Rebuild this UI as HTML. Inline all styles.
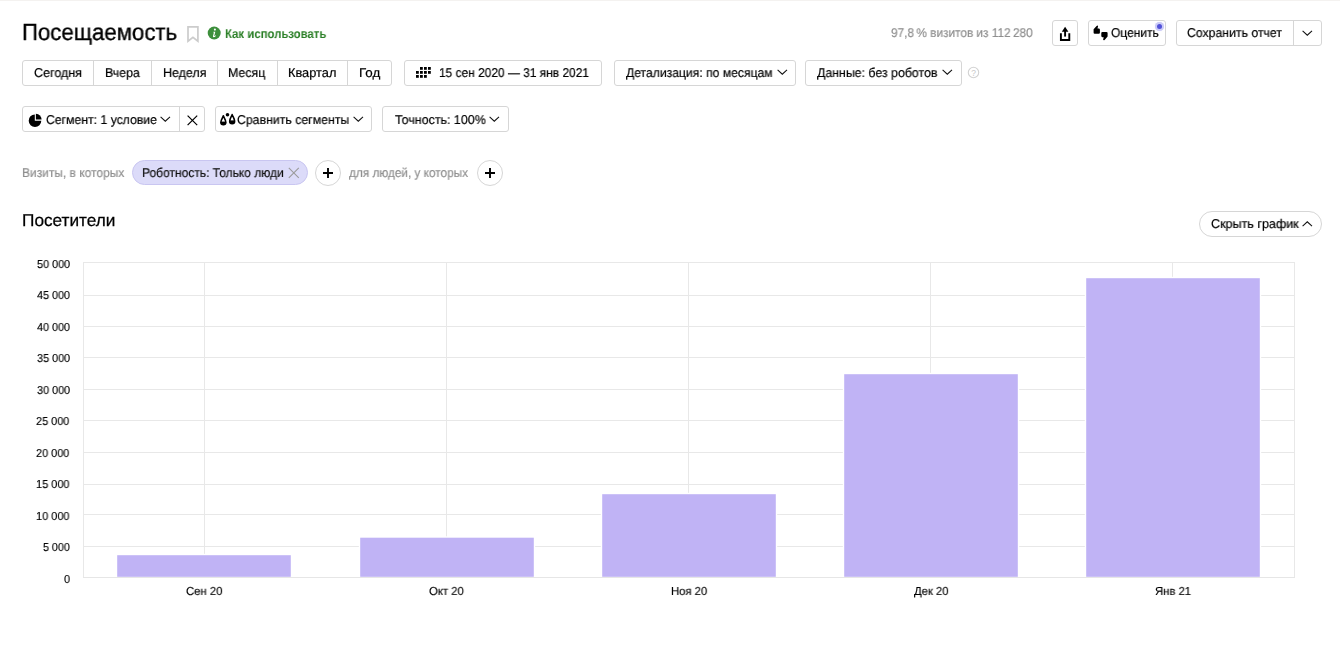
<!DOCTYPE html>
<html><head><meta charset="utf-8">
<style>
*{box-sizing:border-box;margin:0;padding:0}
html,body{width:1340px;height:649px;overflow:hidden;background:#fff}
body{position:relative;font-family:"Liberation Sans",sans-serif;color:#000}
.a{position:absolute}
.t{position:absolute;white-space:nowrap;line-height:0;transform-origin:0 0;will-change:transform;text-rendering:geometricPrecision}
.b{position:absolute;border:1px solid #d6d6d6;border-radius:3px;background:#fff}
.v{position:absolute;width:1px;background:#d6d6d6}
</style></head><body>
<div class="a" style="left:0;top:0;width:1340px;height:1px;background:#f4f2f0"></div>
<div class="t" style="left:22.26px;top:32.00px;font-size:23.40px;transform:scaleX(0.9493);color:#000;-webkit-text-stroke:0.35px #000;">Посещаемость</div>
<svg class="a" style="left:186px;top:25px" width="15" height="19" viewBox="0 0 15 19"><path d="M2 1.8 H11.9 V16.2 L6.95 12.4 L2 16.2 Z" fill="none" stroke="#cccccc" stroke-width="1.7"/></svg>
<svg class="a" style="left:207px;top:26px" width="14" height="14" viewBox="0 0 14 14"><circle cx="7.2" cy="7" r="6.5" fill="#3d8f3c"/><circle cx="7.9" cy="3.6" r="1.05" fill="#fff"/><path d="M6.4 5.8 H8.3 L7.3 9.7 Q7.2 10.3 7.8 10 L8.9 9.2 L9.1 9.7 Q7.7 11.2 6.6 11.2 Q5.7 11.1 6 10.1 L6.9 6.5 H6.3 Z" fill="#fff"/></svg>
<div class="t" style="left:225.29px;top:34.00px;font-size:12.60px;transform:scaleX(0.9031);font-weight:bold;color:#2a7f26;">Как использовать</div>
<div class="t" style="left:891.35px;top:33.00px;font-size:12.60px;transform:scaleX(0.9383);color:#8f8f8f;-webkit-text-stroke:0.2px #8f8f8f;">97,8&#8201;% визитов из 112&#8201;280</div>
<div class="b" style="left:1052px;top:20px;width:26px;height:26px"></div>
<svg class="a" style="left:1052px;top:20px" width="26" height="26" viewBox="0 0 26 26"><path d="M8.9 13.2 V20 H17.3 V13.2" fill="none" stroke="#000" stroke-width="1.9"/><path d="M13.1 10.5 V16.6" stroke="#000" stroke-width="1.9"/><path d="M9.8 11.8 L13.1 6.8 L16.4 11.8 Z" fill="#000"/></svg>
<div class="b" style="left:1088px;top:20px;width:78px;height:26px"></div>
<svg class="a" style="left:1088px;top:20px" width="26" height="26" viewBox="0 0 26 26"><path transform="translate(5.2 5.4)" d="M0.4 3.8 L3.4 0.5 Q4.3 -0.3 4.9 0.6 L4.3 3.2 H5.6 Q6.7 3.2 6.7 4.3 V7.3 Q6.7 8.4 5.6 8.4 H1.5 Q0.4 8.4 0.4 7.3 Z" fill="#000"/><path transform="translate(20 20.4) rotate(180)" d="M0.4 3.8 L3.4 0.5 Q4.3 -0.3 4.9 0.6 L4.3 3.2 H5.6 Q6.7 3.2 6.7 4.3 V7.3 Q6.7 8.4 5.6 8.4 H1.5 Q0.4 8.4 0.4 7.3 Z" fill="#000"/></svg>
<div class="t" style="left:1111.24px;top:33.00px;font-size:12.80px;transform:scaleX(0.9371);color:#000;-webkit-text-stroke:0.2px #000;">Оценить</div>
<div class="a" style="left:1154.7px;top:21.7px;width:9.4px;height:9.4px;border-radius:50%;background:#cbcbf7;box-shadow:0 0 1px #d8d8f8"></div>
<div class="a" style="left:1156.6px;top:23.6px;width:5.6px;height:5.6px;border-radius:50%;background:#5151d8"></div>
<div class="b" style="left:1176px;top:20px;width:146px;height:26px"></div>
<div class="v" style="left:1292.6px;top:21px;height:24px"></div>
<div class="t" style="left:1186.73px;top:33.00px;font-size:12.80px;transform:scaleX(0.9581);color:#000;-webkit-text-stroke:0.2px #000;">Сохранить отчет</div>
<svg class="a" style="left:1302.40px;top:29.80px" width="11" height="7" viewBox="0 0 11 7"><path d="M0.6 0.8 L5.3 5.2 L10 0.8" fill="none" stroke="#111" stroke-width="1.05"/></svg>
<div class="b" style="left:22px;top:60px;width:370px;height:26px"></div>
<div class="v" style="left:93px;top:61px;height:24px"></div>
<div class="v" style="left:151px;top:61px;height:24px"></div>
<div class="v" style="left:217px;top:61px;height:24px"></div>
<div class="v" style="left:277px;top:61px;height:24px"></div>
<div class="v" style="left:347px;top:61px;height:24px"></div>
<div class="t" style="left:34.31px;top:73.00px;font-size:12.80px;transform:scaleX(0.9806);color:#000;-webkit-text-stroke:0.2px #000;">Сегодня</div>
<div class="t" style="left:104.74px;top:73.00px;font-size:12.80px;transform:scaleX(0.9626);color:#000;-webkit-text-stroke:0.2px #000;">Вчера</div>
<div class="t" style="left:162.53px;top:73.00px;font-size:12.80px;transform:scaleX(0.9741);color:#000;-webkit-text-stroke:0.2px #000;">Неделя</div>
<div class="t" style="left:228.03px;top:73.00px;font-size:12.80px;transform:scaleX(0.9665);color:#000;-webkit-text-stroke:0.2px #000;">Месяц</div>
<div class="t" style="left:288.00px;top:73.00px;font-size:12.80px;transform:scaleX(0.9977);color:#000;-webkit-text-stroke:0.2px #000;">Квартал</div>
<div class="t" style="left:358.65px;top:73.00px;font-size:12.80px;transform:scaleX(1.0460);color:#000;-webkit-text-stroke:0.2px #000;">Год</div>
<div class="b" style="left:404px;top:60px;width:198px;height:26px"></div>
<svg class="a" style="left:416px;top:67px" width="15" height="11" viewBox="0 0 15 11"><g fill="#000"><rect x="4" y="0" width="2.8" height="2.8"/><rect x="8" y="0" width="2.8" height="2.8"/><rect x="12" y="0" width="2.8" height="2.8"/><rect x="0" y="4" width="2.8" height="2.8"/><rect x="4" y="4" width="2.8" height="2.8"/><rect x="8" y="4" width="2.8" height="2.8"/><rect x="12" y="4" width="2.8" height="2.8"/><rect x="0" y="8" width="2.8" height="2.8"/><rect x="4" y="8" width="2.8" height="2.8"/><rect x="8" y="8" width="2.8" height="2.8"/></g></svg>
<div class="t" style="left:439.25px;top:73.00px;font-size:12.80px;transform:scaleX(0.9321);color:#000;-webkit-text-stroke:0.2px #000;">15 сен 2020 — 31 янв 2021</div>
<div class="b" style="left:614px;top:60px;width:182px;height:26px"></div>
<div class="t" style="left:626.30px;top:73.00px;font-size:12.80px;transform:scaleX(0.9496);color:#000;-webkit-text-stroke:0.2px #000;">Детализация: по месяцам</div>
<svg class="a" style="left:776.50px;top:69.20px" width="11" height="7" viewBox="0 0 11 7"><path d="M0.6 0.8 L5.3 5.2 L10 0.8" fill="none" stroke="#111" stroke-width="1.05"/></svg>
<div class="b" style="left:805px;top:60px;width:157px;height:26px"></div>
<div class="t" style="left:817.40px;top:73.00px;font-size:12.80px;transform:scaleX(0.9650);color:#000;-webkit-text-stroke:0.2px #000;">Данные: без роботов</div>
<svg class="a" style="left:941.50px;top:69.10px" width="11" height="7" viewBox="0 0 11 7"><path d="M0.6 0.8 L5.3 5.2 L10 0.8" fill="none" stroke="#111" stroke-width="1.05"/></svg>
<svg class="a" style="left:967px;top:66.2px" width="13" height="13" viewBox="0 0 13 13"><circle cx="6.5" cy="6.5" r="5.2" fill="none" stroke="#d2d2d2" stroke-width="1.1"/><text x="6.5" y="9.5" text-anchor="middle" font-family="Liberation Sans" font-size="8.5" fill="#c8c8c8">?</text></svg>
<div class="b" style="left:22px;top:106px;width:183px;height:26px"></div>
<div class="v" style="left:178.5px;top:107px;height:24px"></div>
<svg class="a" style="left:27px;top:111.5px" width="17" height="17" viewBox="0 0 17 17"><path d="M7.8 2.4 A6.3 6.3 0 1 0 14.3 8.8 H7.8 Z" fill="#000"/><path d="M8.9 1.7 A5.7 5.7 0 0 1 14.6 7.5 H8.9 Z" fill="#000"/></svg>
<div class="t" style="left:45.53px;top:120.00px;font-size:12.80px;transform:scaleX(0.9556);color:#000;-webkit-text-stroke:0.2px #000;">Сегмент: 1 условие</div>
<svg class="a" style="left:159.60px;top:115.70px" width="11" height="7" viewBox="0 0 11 7"><path d="M0.6 0.8 L5.3 5.2 L10 0.8" fill="none" stroke="#111" stroke-width="1.05"/></svg>
<svg class="a" style="left:187px;top:115px" width="11" height="11" viewBox="0 0 11 11"><path d="M0.6 0.6 L10.2 10.2 M10.2 0.6 L0.6 10.2" stroke="#000" stroke-width="1.2"/></svg>
<div class="b" style="left:215px;top:106px;width:157px;height:26px"></div>
<svg class="a" style="left:218px;top:112px" width="20" height="15" viewBox="0 0 20 15"><g transform="translate(5.35 3.8)"><path d="M0 0 C-0.45 1.7 -2.45 4 -2.45 6.55 A2.45 2.45 0 0 0 2.45 6.55 C2.45 4 0.45 1.7 0 0 Z" fill="none" stroke="#000" stroke-width="1.6" stroke-linejoin="round"/><path d="M-2.45 6.3 H2.45 A2.45 2.45 0 0 1 -2.45 6.3 Z" fill="#000" stroke="#000" stroke-width="1"/></g><g transform="translate(14.15 2.6)"><path d="M0 0 C-0.45 1.7 -2.45 4 -2.45 6.55 A2.45 2.45 0 0 0 2.45 6.55 C2.45 4 0.45 1.7 0 0 Z" fill="none" stroke="#000" stroke-width="1.6" stroke-linejoin="round"/><path d="M-2.45 6.3 H2.45 A2.45 2.45 0 0 1 -2.45 6.3 Z" fill="#000" stroke="#000" stroke-width="1"/></g><circle cx="9.5" cy="2.7" r="1.8" fill="#000"/></svg>
<div class="t" style="left:237.42px;top:120.00px;font-size:12.80px;transform:scaleX(0.9617);color:#000;-webkit-text-stroke:0.2px #000;">Сравнить сегменты</div>
<svg class="a" style="left:353.00px;top:115.90px" width="11" height="7" viewBox="0 0 11 7"><path d="M0.6 0.8 L5.3 5.2 L10 0.8" fill="none" stroke="#111" stroke-width="1.05"/></svg>
<div class="b" style="left:382px;top:106px;width:127px;height:26px"></div>
<div class="t" style="left:394.61px;top:120.00px;font-size:12.80px;transform:scaleX(0.9729);color:#000;-webkit-text-stroke:0.2px #000;">Точность: 100%</div>
<svg class="a" style="left:489.40px;top:115.90px" width="11" height="7" viewBox="0 0 11 7"><path d="M0.6 0.8 L5.3 5.2 L10 0.8" fill="none" stroke="#111" stroke-width="1.05"/></svg>
<div class="t" style="left:21.86px;top:173.00px;font-size:12.80px;transform:scaleX(0.9356);color:#8f8f8f;-webkit-text-stroke:0.2px #8f8f8f;">Визиты, в которых</div>
<div class="a" style="left:132px;top:160px;width:176px;height:25px;border-radius:13px;background:#dcdbf9;border:1px solid #c9c6f1"></div>
<div class="t" style="left:142.26px;top:173.00px;font-size:12.80px;transform:scaleX(0.9395);color:#111;-webkit-text-stroke:0.2px #111;">Роботность: Только люди</div>
<svg class="a" style="left:288px;top:167px" width="12" height="12" viewBox="0 0 12 12"><path d="M0.8 0.8 L10.8 10.8 M10.8 0.8 L0.8 10.8" stroke="#9b9b9b" stroke-width="1.1"/></svg>
<div class="a" style="left:315px;top:159.5px;width:26px;height:26px;border-radius:50%;border:1px solid #d6d6d6;background:#fff"></div>
<svg class="a" style="left:322px;top:166.5px" width="12" height="12" viewBox="0 0 12 12"><path d="M6 1 V11 M1 6 H11" stroke="#000" stroke-width="1.9"/></svg>
<div class="a" style="left:477px;top:159.5px;width:26px;height:26px;border-radius:50%;border:1px solid #d6d6d6;background:#fff"></div>
<svg class="a" style="left:484px;top:166.5px" width="12" height="12" viewBox="0 0 12 12"><path d="M6 1 V11 M1 6 H11" stroke="#000" stroke-width="1.9"/></svg>
<div class="t" style="left:348.90px;top:173.00px;font-size:12.80px;transform:scaleX(0.9221);color:#8f8f8f;-webkit-text-stroke:0.2px #8f8f8f;">для людей, у которых</div>
<div class="t" style="left:21.85px;top:220.00px;font-size:17.20px;transform:scaleX(1.0024);color:#000;-webkit-text-stroke:0.25px #000;">Посетители</div>
<div class="a" style="left:1199px;top:210.5px;width:123px;height:26px;border-radius:13px;border:1px solid #d6d6d6;background:#fff"></div>
<div class="t" style="left:1210.81px;top:224.00px;font-size:12.80px;transform:scaleX(0.9805);color:#000;-webkit-text-stroke:0.2px #000;">Скрыть график</div>
<svg class="a" style="left:1302.40px;top:221.20px" width="11" height="7" viewBox="0 0 11 7"><path d="M0.6 5.2 L5.3 0.8 L10 5.2" fill="none" stroke="#111" stroke-width="1.05"/></svg>
<svg class="a" style="left:0;top:0" width="1340" height="649" viewBox="0 0 1340 649"><g stroke="#e8e8e8" stroke-width="1" shape-rendering="crispEdges" fill="none"><path d="M83 262.5 H1295 M83 295.5 H1295 M83 326.5 H1295 M83 357.5 H1295 M83 389.5 H1295 M83 420.5 H1295 M83 452.5 H1295 M83 484.5 H1295 M83 514.5 H1295 M83 546.5 H1295 M83 577.5 H1295"/><path d="M83.5 262 V578 M1294.5 262 V578 M204.5 262 V578 M446.5 262 V578 M688.5 262 V578 M930.5 262 V578 M1172.5 262 V578"/></g><g fill="#c0b3f5" stroke="#fff" stroke-width="1.4"><rect x="116.5" y="554.5" width="175" height="23"/><rect x="359.5" y="537.0" width="175" height="40.5"/><rect x="601.5" y="493.5" width="175" height="84"/><rect x="843.5" y="373.5" width="175" height="204"/><rect x="1085.5" y="277.5" width="175" height="300"/></g><path d="M83 577.5 H1295" stroke="#e6e6e6" stroke-width="1" shape-rendering="crispEdges"/></svg>
<div class="t" style="left:36.56px;top:265.00px;font-size:11.50px;transform:scaleX(0.9413);color:#000;-webkit-text-stroke:0.15px #000;">50 000</div>
<div class="t" style="left:36.73px;top:296.00px;font-size:11.50px;transform:scaleX(0.9364);color:#000;-webkit-text-stroke:0.15px #000;">45 000</div>
<div class="t" style="left:36.73px;top:328.00px;font-size:11.50px;transform:scaleX(0.9364);color:#000;-webkit-text-stroke:0.15px #000;">40 000</div>
<div class="t" style="left:36.56px;top:359.00px;font-size:11.50px;transform:scaleX(0.9413);color:#000;-webkit-text-stroke:0.15px #000;">35 000</div>
<div class="t" style="left:36.56px;top:391.00px;font-size:11.50px;transform:scaleX(0.9413);color:#000;-webkit-text-stroke:0.15px #000;">30 000</div>
<div class="t" style="left:36.39px;top:422.00px;font-size:11.50px;transform:scaleX(0.9462);color:#000;-webkit-text-stroke:0.15px #000;">25 000</div>
<div class="t" style="left:36.39px;top:454.00px;font-size:11.50px;transform:scaleX(0.9462);color:#000;-webkit-text-stroke:0.15px #000;">20 000</div>
<div class="t" style="left:36.22px;top:485.00px;font-size:11.50px;transform:scaleX(0.9512);color:#000;-webkit-text-stroke:0.15px #000;">15 000</div>
<div class="t" style="left:36.22px;top:517.00px;font-size:11.50px;transform:scaleX(0.9512);color:#000;-webkit-text-stroke:0.15px #000;">10 000</div>
<div class="t" style="left:42.87px;top:548.00px;font-size:11.50px;transform:scaleX(0.9313);color:#000;-webkit-text-stroke:0.15px #000;">5 000</div>
<div class="t" style="left:63.66px;top:580.00px;font-size:11.50px;transform:scaleX(0.9391);color:#000;-webkit-text-stroke:0.15px #000;">0</div>
<div class="t" style="left:186.16px;top:592.00px;font-size:11.60px;transform:scaleX(0.9750);color:#000;-webkit-text-stroke:0.15px #000;">Сен 20</div>
<div class="t" style="left:429.39px;top:592.00px;font-size:11.60px;transform:scaleX(0.9750);color:#000;-webkit-text-stroke:0.15px #000;">Окт 20</div>
<div class="t" style="left:670.55px;top:592.00px;font-size:11.60px;transform:scaleX(0.9750);color:#000;-webkit-text-stroke:0.15px #000;">Ноя 20</div>
<div class="t" style="left:913.83px;top:592.00px;font-size:11.60px;transform:scaleX(0.9750);color:#000;-webkit-text-stroke:0.15px #000;">Дек 20</div>
<div class="t" style="left:1155.19px;top:592.00px;font-size:11.60px;transform:scaleX(0.9750);color:#000;-webkit-text-stroke:0.15px #000;">Янв 21</div>
</body></html>
